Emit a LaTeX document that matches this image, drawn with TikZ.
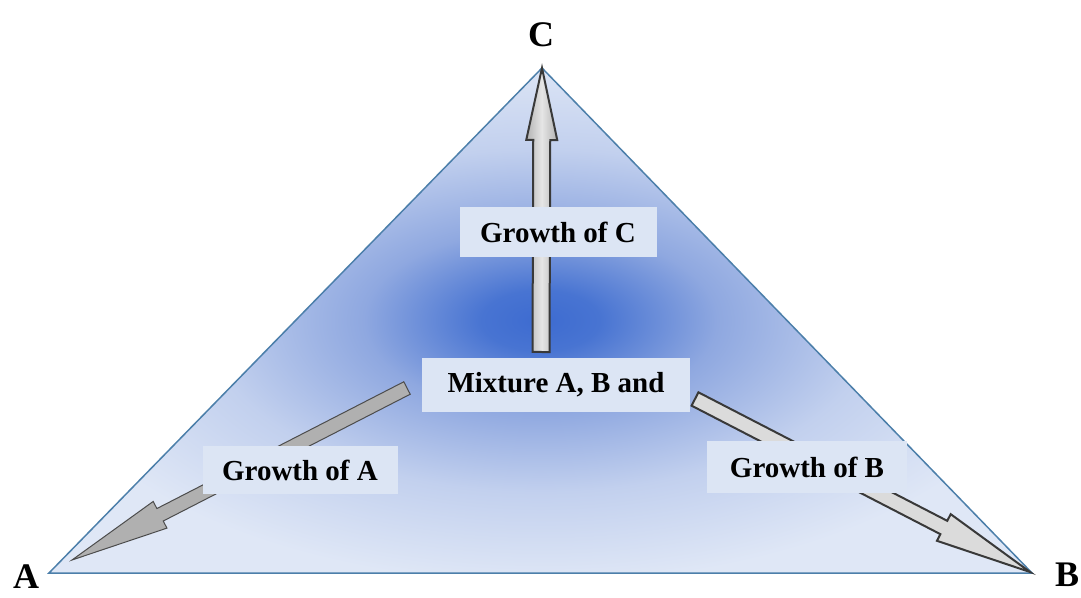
\documentclass[tikz,border=0pt]{standalone}
\usepackage{fontspec}
\setmainfont{Liberation Serif}
\usetikzlibrary{calc}

\definecolor{glowcore}{HTML}{3D6BD0}
\definecolor{glowinner}{HTML}{4874D2}
\definecolor{glowmid}{HTML}{8FA8E0}
\definecolor{glowouter}{HTML}{C2D0EE}
\definecolor{glowedge}{HTML}{DFE7F6}
\definecolor{edgeblue}{HTML}{4C7FAA}
\definecolor{boxfill}{HTML}{DCE5F4}

\pgfdeclareradialshading{triglow}{\pgfpoint{0bp}{0bp}}{%
  color(0bp)=(glowcore); color(3bp)=(glowinner); color(9bp)=(glowmid);
  color(17bp)=(glowouter); color(26bp)=(glowedge); color(50bp)=(glowedge)}

\tikzset{
  edge/.style={draw=edgeblue, line width=1.5pt, line join=miter},
  label box/.style={fill=boxfill, inner sep=0pt, minimum height=50pt,
    font=\fontsize{29}{31}\selectfont\bfseries},
  corner/.style={inner sep=0pt, font=\fontsize{36}{38}\selectfont\bfseries},
  arrowC/.style={draw=gray!45!black, line width=2pt,
    left color=gray!60, right color=gray!60, middle color=gray!20},
  arrowA/.style={draw=gray!60!black, line width=1pt, fill=gray!62},
  arrowB/.style={draw=gray!45!black, line width=2pt, fill=gray!28},
}

% mui ten day: #1 kieu, #2 goc, #3 dinh, #4 nua than, #5 nua dau, #6 dai dau
\newcommand{\growtharrow}[6]{%
  \coordinate (hb) at ($(#3)!#6!(#2)$);
  \draw[#1] ($(#2)!#4!90:(#3)$) -- ($(hb)!#4!90:(#3)$) -- ($(hb)!#5!90:(#3)$)
    -- (#3) -- ($(hb)!#5!-90:(#3)$) -- ($(hb)!#4!-90:(#3)$)
    -- ($(#2)!#4!-90:(#3)$) -- cycle;
}

\begin{document}
\begin{tikzpicture}[x=1pt, y=1pt]
    \useasboundingbox (0,0) rectangle (1081,597);

    % 1. Cac dinh tam giac
    \coordinate (A) at (49,24);
    \coordinate (B) at (1032,24);
    \coordinate (C) at (542,529);
    \node[corner] (labA) at (26,20) {A};
    \node[corner] (labB) at (1067,22) {B};
    \node[corner] (labC) at (541,562) {C};

    % 2. Tam giac to bong
    \shade[shading=triglow] (A) -- (B) -- (C) -- cycle;
    \draw[edge] (A) -- (B) -- (C) -- cycle;

    % 3. Mui ten tang truong
    \coordinate (startC) at (541,245);
    \coordinate (startA) at (407,209);
    \coordinate (tipA) at (72,37);
    \coordinate (startB) at (695,198);
    \coordinate (tipB) at (1030,25);
    \growtharrow{arrowC}{startC}{C}{8.5pt}{15.5pt}{72pt}
    \growtharrow{arrowA}{startA}{tipA}{7pt}{15pt}{99pt}
    \growtharrow{arrowB}{startB}{tipB}{7.5pt}{15pt}{97pt}

    % 4. Nhan
    \node[label box, minimum width=197pt] (growC) at (558,365) {Growth of C};
    \node[label box, minimum width=268pt, minimum height=54pt] (mix) at (556,212) {Mixture A, B and};
    \node[label box, minimum width=195pt, minimum height=48pt] (growA) at (300,127) {Growth of A};
    \node[label box, minimum width=200pt, minimum height=52pt] (growB) at (807,130) {Growth of B};
\end{tikzpicture}
\end{document}
